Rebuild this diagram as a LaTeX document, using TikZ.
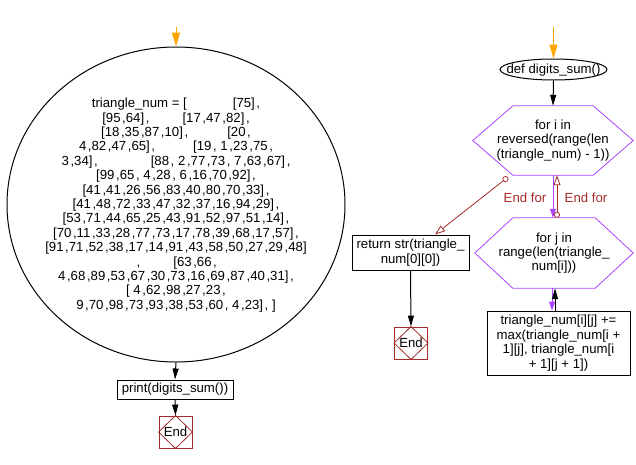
\documentclass[tikz,border=0pt]{standalone}
\usepackage{fontspec}
\setmainfont{Liberation Sans}
\usetikzlibrary{arrows.meta,shapes.geometric,calc}
\definecolor{orng}{RGB}{255,165,0}
\definecolor{purp}{RGB}{170,68,255}
\definecolor{dred}{RGB}{165,42,42}
\newcommand\cc{\kern1.6pt,}
\begin{document}
\begin{tikzpicture}[x=1pt,y=-1pt,
  every node/.style={font=\fontsize{13.2}{14.4}\selectfont, inner sep=0pt},
  box/.style={draw, line width=1pt, align=center},
  endbox/.style={draw=dred, line width=0.9pt, minimum width=33pt, minimum height=32pt},
  blk/.style={line width=1pt, -{Triangle[length=11pt,width=6pt]}},
  org/.style={draw=orng, line width=1pt, -{Triangle[length=14pt,width=8pt]}},
  prp/.style={draw=purp, line width=1pt, -{Triangle[length=9pt,width=6pt]}},
  hexline/.style={draw=purp, line width=0.8pt},
  redl/.style={draw=dred, line width=0.8pt, {Circle[open,length=6pt,width=6pt]}-{Triangle[open,length=10pt,width=7pt]}},
  lbl/.style={text=dred}
]
\useasboundingbox (0,0) rectangle (636,464);

% ---------- left part ----------
\node[ellipse, draw, line width=1pt, minimum width=338pt, minimum height=315pt] (c) at (176,204.5) {};
\node[align=center] (ctext) at (176,205) {%
triangle\_num = [\hspace{46pt}[75]\cc\\{}%
[95\cc64]\cc\hspace{33pt}[17\cc47\cc82]\cc\\{}%
[18\cc35\cc87\cc10]\cc\hspace{39pt}[20\cc\\{}%
4\cc82\cc47\cc65]\cc\hspace{38pt}[19\cc\ 1\cc23\cc75\cc\\{}%
3\cc34]\cc\hspace{53pt}[88\cc\ 2\cc77\cc73\cc\ 7\cc63\cc67]\cc\\{}%
[99\cc65\cc\ 4\cc28\cc\ 6\cc16\cc70\cc92]\cc\\{}%
[41\cc41\cc26\cc56\cc83\cc40\cc80\cc70\cc33]\cc\\{}%
[41\cc48\cc72\cc33\cc47\cc32\cc37\cc16\cc94\cc29]\cc\\{}%
[53\cc71\cc44\cc65\cc25\cc43\cc91\cc52\cc97\cc51\cc14]\cc\\{}%
[70\cc11\cc33\cc28\cc77\cc73\cc17\cc78\cc39\cc68\cc17\cc57]\cc\\{}%
[91\cc71\cc52\cc38\cc17\cc14\cc91\cc43\cc58\cc50\cc27\cc29\cc48]\\{}%
\cc\hspace{33pt}[63\cc66\cc\\{}%
4\cc68\cc89\cc53\cc67\cc30\cc73\cc16\cc69\cc87\cc40\cc31]\cc\\{}%
[ 4\cc62\cc98\cc27\cc23\cc\\{}%
9\cc70\cc98\cc73\cc93\cc38\cc53\cc60\cc\ 4\cc23]\cc\ ]};
\coordinate (s1) at (176,27);
\node[box, minimum width=116pt, minimum height=19pt] (p) at (175,389.5) {print(digits\_sum())};
\node[endbox] (e1) at (175.5,432) {End};
\draw[dred, line width=0.8pt] (e1.north) -- (e1.east) -- (e1.south) -- (e1.west) -- cycle;

\draw[org] (s1) -- (c.north);
\draw[blk] (c.south) -- (p.north);
\draw[blk] (p.south) -- (e1.north);

% ---------- right part ----------
\coordinate (s2) at (553.5,27);
\node[ellipse, draw, line width=1pt, minimum width=107pt, minimum height=21pt] (d) at (553.5,69.5) {};
\node (dtext) at (553.5,70) {def digits\_sum()};

\node[minimum width=160pt, minimum height=69pt, align=center] (h1) at (553,140.5)
  {for i in\\reversed(range(len\\(triangle\_num) - 1))};
\draw[hexline] (h1.west) -- ($(h1.north west)+(40,0)$) -- ($(h1.north east)+(-40,0)$) -- (h1.east)
  -- ($(h1.south east)+(-40,0)$) -- ($(h1.south west)+(40,0)$) -- cycle;

\node[minimum width=158pt, minimum height=70pt, align=center] (h2) at (554,253)
  {for j in\\range(len(triangle\_\\num[i]))};
\draw[hexline] (h2.west) -- ($(h2.north west)+(38,0)$) -- ($(h2.north east)+(-38,0)$) -- (h2.east)
  -- ($(h2.south east)+(-38,0)$) -- ($(h2.south west)+(38,0)$) -- cycle;

\node[box, minimum width=143pt, minimum height=64pt] (b) at (558.5,343)
  {triangle\_num[i][j] +=\\max(triangle\_num[i +\\1][j], triangle\_num[i\\+ 1][j + 1])};

\node[box, minimum width=117pt, minimum height=35pt] (r) at (410.5,252.5)
  {return str(triangle\_\\num[0][0])};
\node[endbox] (e2) at (411,343) {End};
\draw[dred, line width=0.8pt] (e2.north) -- (e2.east) -- (e2.south) -- (e2.west) -- cycle;

\draw[org] (s2) -- (d.north);
\draw[blk] (d.south) -- (h1.north);
\draw[prp] (h1.south) -- (h1.south |- h2.north);
\draw[redl] ($(h2.north)+(3,0)$) -- ($(h1.south)+(4,0)$);
\draw[redl] ($(h1.south west)+(35,2)$) -- ($(r.north)+(24.5,0)$);
\draw[prp] ($(h2.south)+(-2,0)$) -- ($(b.north)+(-6.5,0)$);
\draw[blk] ($(b.north)+(-3.5,0)$) -- ($(h2.south)+(1,0)$);
\draw[blk] (r.south) -- (e2.north);

\node[lbl] (l1) at (525,198) {End for};
\node[lbl] (l2) at (586,198) {End for};
\end{tikzpicture}
\end{document}
